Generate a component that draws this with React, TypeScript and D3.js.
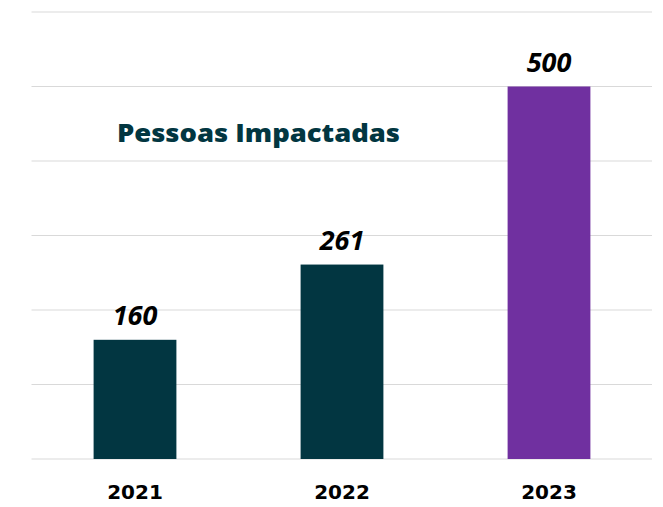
import React from "react";
import * as d3 from "d3";

const categories = ["2021", "2022", "2023"];
const values = [160, 261, 500];
const barColors = ["#023641", "#023641", "#7030A0"];
const gridTicks = [0, 100, 200, 300, 400, 500, 600];
const title = "Pessoas Impactadas";

export default function App() {
  const W = 663, H = 507;
  const x = d3.scaleBand<string>().domain(categories).range([31.5, 652.5]).paddingInner(0.6).paddingOuter(0.3);
  const y = d3.scaleLinear().domain([0, 600]).range([459, 12]);
  return (
    <svg width={W} height={H} style={{ position: "absolute", left: 0, top: 0, background: "#fff" }}>
      {gridTicks.map((t) => (
        <line key={t} x1={31.5} x2={652} y1={y(t)} y2={y(t)} stroke="#d9d9d9" strokeWidth={1} />
      ))}
      {categories.map((c, i) => (
        <g key={c}>
          <rect x={x(c)} y={y(values[i])} width={x.bandwidth()} height={y(0) - y(values[i])} fill={barColors[i]} />
          <text x={x(c)! + x.bandwidth() / 2} y={y(values[i]) - 15} textAnchor="middle" fontFamily="'Open Sans', sans-serif" fontWeight="bold" fontStyle="italic" fontSize={27} fill="#000">
            {values[i]}
          </text>
          <text x={x(c)! + x.bandwidth() / 2} y={499} textAnchor="middle" fontFamily="'DejaVu Sans', sans-serif" fontWeight="bold" fontSize={20} fill="#000">
            {c}
          </text>
        </g>
      ))}
      <text x={117} y={142} fontFamily="'Open Sans', sans-serif" fontWeight="800" fontSize={24} fill="#023641" textLength={283} lengthAdjust="spacingAndGlyphs">
        {title}
      </text>
    </svg>
  );
}
